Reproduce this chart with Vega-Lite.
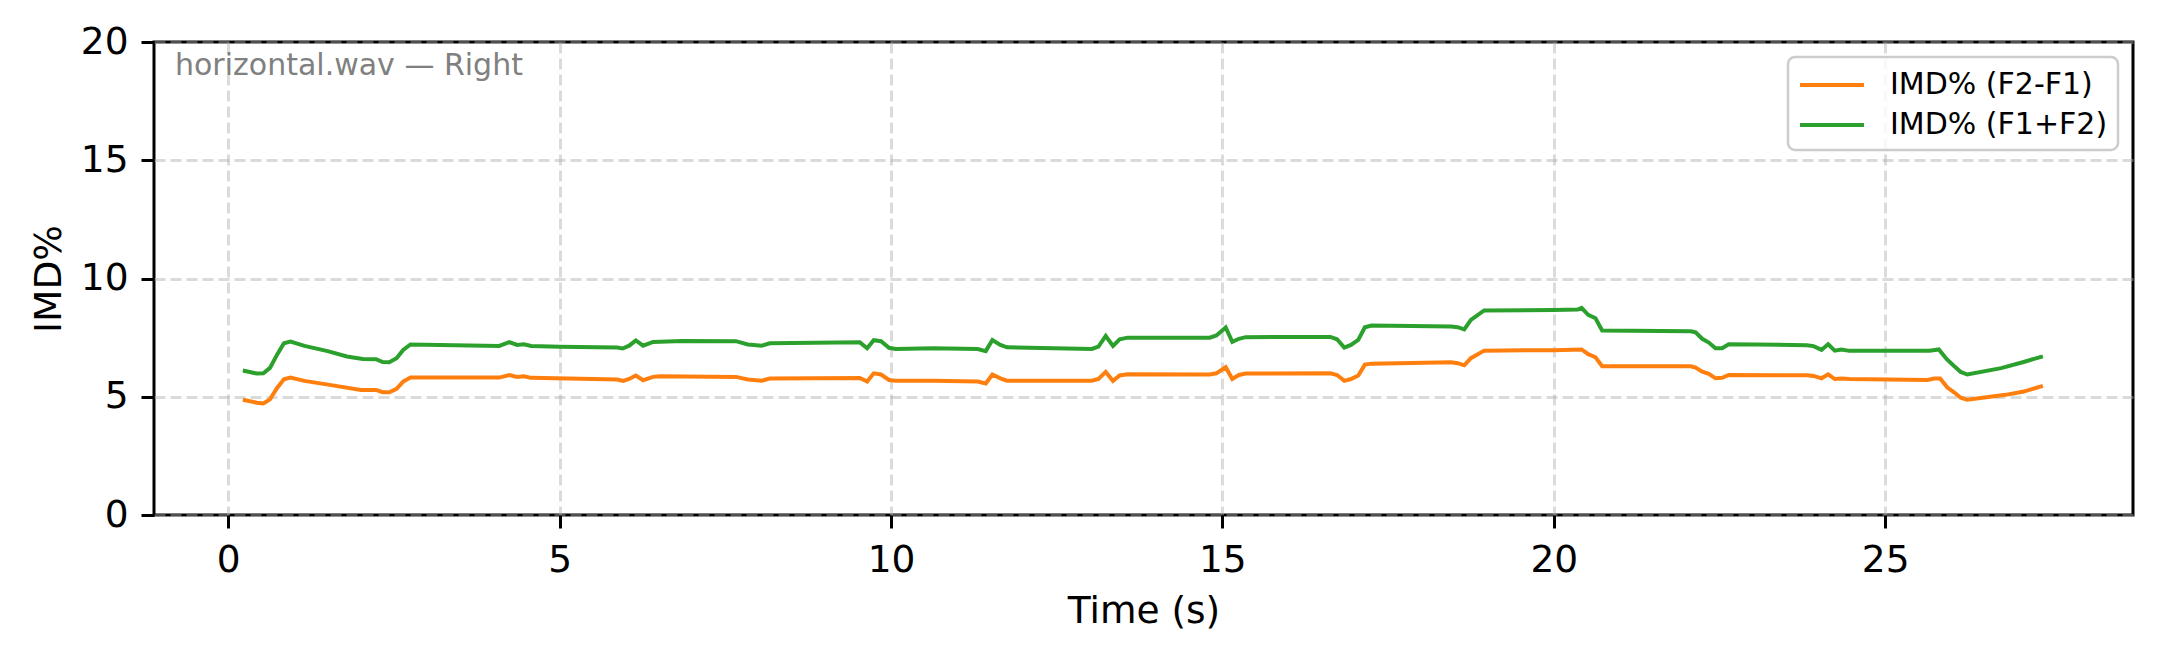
{
  "$schema": "https://vega.github.io/schema/vega-lite/v6.json",
  "autosize": {"type": "none"},
  "width": 1979,
  "height": 473,
  "padding": {"left": 154, "top": 42, "right": 27, "bottom": 142},
  "background": "white",
  "title": {"text": "horizontal.wav — Right", "anchor": "start", "frame": "group", "orient": "top", "offset": -38, "dx": 21, "dy": 44, "fontSize": 30, "font": "DejaVu Sans", "fontWeight": "normal", "color": "#808080", "baseline": "alphabetic"},
  "data": {"values": [
    {"t":0.22,"imd":4.87,"s":"IMD% (F2-F1)"},{"t":0.43,"imd":4.75,"s":"IMD% (F2-F1)"},{"t":0.53,"imd":4.72,"s":"IMD% (F2-F1)"},{"t":0.63,"imd":4.89,"s":"IMD% (F2-F1)"},{"t":0.735,"imd":5.36,"s":"IMD% (F2-F1)"},{"t":0.84,"imd":5.74,"s":"IMD% (F2-F1)"},{"t":0.94,"imd":5.81,"s":"IMD% (F2-F1)"},{"t":1.15,"imd":5.67,"s":"IMD% (F2-F1)"},{"t":1.6,"imd":5.47,"s":"IMD% (F2-F1)"},{"t":2.0,"imd":5.29,"s":"IMD% (F2-F1)"},{"t":2.23,"imd":5.29,"s":"IMD% (F2-F1)"},{"t":2.33,"imd":5.19,"s":"IMD% (F2-F1)"},{"t":2.43,"imd":5.19,"s":"IMD% (F2-F1)"},{"t":2.54,"imd":5.33,"s":"IMD% (F2-F1)"},{"t":2.64,"imd":5.64,"s":"IMD% (F2-F1)"},{"t":2.75,"imd":5.81,"s":"IMD% (F2-F1)"},{"t":4.09,"imd":5.81,"s":"IMD% (F2-F1)"},{"t":4.24,"imd":5.92,"s":"IMD% (F2-F1)"},{"t":4.36,"imd":5.84,"s":"IMD% (F2-F1)"},{"t":4.46,"imd":5.87,"s":"IMD% (F2-F1)"},{"t":4.57,"imd":5.8,"s":"IMD% (F2-F1)"},{"t":5.87,"imd":5.73,"s":"IMD% (F2-F1)"},{"t":5.96,"imd":5.67,"s":"IMD% (F2-F1)"},{"t":6.05,"imd":5.75,"s":"IMD% (F2-F1)"},{"t":6.15,"imd":5.9,"s":"IMD% (F2-F1)"},{"t":6.26,"imd":5.7,"s":"IMD% (F2-F1)"},{"t":6.41,"imd":5.84,"s":"IMD% (F2-F1)"},{"t":6.51,"imd":5.87,"s":"IMD% (F2-F1)"},{"t":7.66,"imd":5.84,"s":"IMD% (F2-F1)"},{"t":7.84,"imd":5.73,"s":"IMD% (F2-F1)"},{"t":8.05,"imd":5.68,"s":"IMD% (F2-F1)"},{"t":8.17,"imd":5.77,"s":"IMD% (F2-F1)"},{"t":9.53,"imd":5.79,"s":"IMD% (F2-F1)"},{"t":9.64,"imd":5.64,"s":"IMD% (F2-F1)"},{"t":9.74,"imd":5.99,"s":"IMD% (F2-F1)"},{"t":9.85,"imd":5.94,"s":"IMD% (F2-F1)"},{"t":9.97,"imd":5.71,"s":"IMD% (F2-F1)"},{"t":10.07,"imd":5.68,"s":"IMD% (F2-F1)"},{"t":10.64,"imd":5.68,"s":"IMD% (F2-F1)"},{"t":11.31,"imd":5.64,"s":"IMD% (F2-F1)"},{"t":11.43,"imd":5.56,"s":"IMD% (F2-F1)"},{"t":11.53,"imd":5.94,"s":"IMD% (F2-F1)"},{"t":11.65,"imd":5.78,"s":"IMD% (F2-F1)"},{"t":11.75,"imd":5.68,"s":"IMD% (F2-F1)"},{"t":13.03,"imd":5.68,"s":"IMD% (F2-F1)"},{"t":13.13,"imd":5.75,"s":"IMD% (F2-F1)"},{"t":13.24,"imd":6.05,"s":"IMD% (F2-F1)"},{"t":13.35,"imd":5.67,"s":"IMD% (F2-F1)"},{"t":13.45,"imd":5.9,"s":"IMD% (F2-F1)"},{"t":13.57,"imd":5.95,"s":"IMD% (F2-F1)"},{"t":14.81,"imd":5.94,"s":"IMD% (F2-F1)"},{"t":14.91,"imd":5.99,"s":"IMD% (F2-F1)"},{"t":15.05,"imd":6.25,"s":"IMD% (F2-F1)"},{"t":15.15,"imd":5.75,"s":"IMD% (F2-F1)"},{"t":15.25,"imd":5.92,"s":"IMD% (F2-F1)"},{"t":15.35,"imd":5.98,"s":"IMD% (F2-F1)"},{"t":16.63,"imd":5.99,"s":"IMD% (F2-F1)"},{"t":16.73,"imd":5.92,"s":"IMD% (F2-F1)"},{"t":16.84,"imd":5.67,"s":"IMD% (F2-F1)"},{"t":16.94,"imd":5.75,"s":"IMD% (F2-F1)"},{"t":17.05,"imd":5.9,"s":"IMD% (F2-F1)"},{"t":17.15,"imd":6.36,"s":"IMD% (F2-F1)"},{"t":17.25,"imd":6.4,"s":"IMD% (F2-F1)"},{"t":18.45,"imd":6.46,"s":"IMD% (F2-F1)"},{"t":18.55,"imd":6.42,"s":"IMD% (F2-F1)"},{"t":18.65,"imd":6.33,"s":"IMD% (F2-F1)"},{"t":18.75,"imd":6.63,"s":"IMD% (F2-F1)"},{"t":18.95,"imd":6.95,"s":"IMD% (F2-F1)"},{"t":20.0,"imd":6.97,"s":"IMD% (F2-F1)"},{"t":20.42,"imd":7.0,"s":"IMD% (F2-F1)"},{"t":20.52,"imd":6.8,"s":"IMD% (F2-F1)"},{"t":20.63,"imd":6.67,"s":"IMD% (F2-F1)"},{"t":20.73,"imd":6.29,"s":"IMD% (F2-F1)"},{"t":22.07,"imd":6.29,"s":"IMD% (F2-F1)"},{"t":22.14,"imd":6.23,"s":"IMD% (F2-F1)"},{"t":22.24,"imd":6.06,"s":"IMD% (F2-F1)"},{"t":22.34,"imd":5.97,"s":"IMD% (F2-F1)"},{"t":22.44,"imd":5.78,"s":"IMD% (F2-F1)"},{"t":22.54,"imd":5.8,"s":"IMD% (F2-F1)"},{"t":22.64,"imd":5.92,"s":"IMD% (F2-F1)"},{"t":23.82,"imd":5.91,"s":"IMD% (F2-F1)"},{"t":23.92,"imd":5.88,"s":"IMD% (F2-F1)"},{"t":24.04,"imd":5.78,"s":"IMD% (F2-F1)"},{"t":24.14,"imd":5.95,"s":"IMD% (F2-F1)"},{"t":24.24,"imd":5.75,"s":"IMD% (F2-F1)"},{"t":24.34,"imd":5.77,"s":"IMD% (F2-F1)"},{"t":24.46,"imd":5.75,"s":"IMD% (F2-F1)"},{"t":25.64,"imd":5.71,"s":"IMD% (F2-F1)"},{"t":25.74,"imd":5.77,"s":"IMD% (F2-F1)"},{"t":25.83,"imd":5.77,"s":"IMD% (F2-F1)"},{"t":25.94,"imd":5.39,"s":"IMD% (F2-F1)"},{"t":26.04,"imd":5.19,"s":"IMD% (F2-F1)"},{"t":26.14,"imd":4.96,"s":"IMD% (F2-F1)"},{"t":26.24,"imd":4.87,"s":"IMD% (F2-F1)"},{"t":26.82,"imd":5.08,"s":"IMD% (F2-F1)"},{"t":27.09,"imd":5.22,"s":"IMD% (F2-F1)"},{"t":27.38,"imd":5.46,"s":"IMD% (F2-F1)"},
    {"t":0.22,"imd":6.11,"s":"IMD% (F1+F2)"},{"t":0.43,"imd":5.98,"s":"IMD% (F1+F2)"},{"t":0.53,"imd":5.99,"s":"IMD% (F1+F2)"},{"t":0.63,"imd":6.22,"s":"IMD% (F1+F2)"},{"t":0.735,"imd":6.77,"s":"IMD% (F1+F2)"},{"t":0.84,"imd":7.26,"s":"IMD% (F1+F2)"},{"t":0.94,"imd":7.33,"s":"IMD% (F1+F2)"},{"t":1.15,"imd":7.15,"s":"IMD% (F1+F2)"},{"t":1.5,"imd":6.93,"s":"IMD% (F1+F2)"},{"t":1.79,"imd":6.7,"s":"IMD% (F1+F2)"},{"t":2.03,"imd":6.6,"s":"IMD% (F1+F2)"},{"t":2.23,"imd":6.59,"s":"IMD% (F1+F2)"},{"t":2.33,"imd":6.47,"s":"IMD% (F1+F2)"},{"t":2.43,"imd":6.46,"s":"IMD% (F1+F2)"},{"t":2.54,"imd":6.63,"s":"IMD% (F1+F2)"},{"t":2.64,"imd":6.98,"s":"IMD% (F1+F2)"},{"t":2.75,"imd":7.21,"s":"IMD% (F1+F2)"},{"t":4.09,"imd":7.15,"s":"IMD% (F1+F2)"},{"t":4.15,"imd":7.21,"s":"IMD% (F1+F2)"},{"t":4.24,"imd":7.31,"s":"IMD% (F1+F2)"},{"t":4.36,"imd":7.19,"s":"IMD% (F1+F2)"},{"t":4.46,"imd":7.22,"s":"IMD% (F1+F2)"},{"t":4.57,"imd":7.15,"s":"IMD% (F1+F2)"},{"t":5.0,"imd":7.11,"s":"IMD% (F1+F2)"},{"t":5.87,"imd":7.08,"s":"IMD% (F1+F2)"},{"t":5.95,"imd":7.04,"s":"IMD% (F1+F2)"},{"t":6.05,"imd":7.16,"s":"IMD% (F1+F2)"},{"t":6.15,"imd":7.38,"s":"IMD% (F1+F2)"},{"t":6.26,"imd":7.16,"s":"IMD% (F1+F2)"},{"t":6.41,"imd":7.32,"s":"IMD% (F1+F2)"},{"t":6.85,"imd":7.36,"s":"IMD% (F1+F2)"},{"t":7.66,"imd":7.35,"s":"IMD% (F1+F2)"},{"t":7.84,"imd":7.21,"s":"IMD% (F1+F2)"},{"t":8.05,"imd":7.16,"s":"IMD% (F1+F2)"},{"t":8.17,"imd":7.26,"s":"IMD% (F1+F2)"},{"t":9.53,"imd":7.3,"s":"IMD% (F1+F2)"},{"t":9.64,"imd":7.05,"s":"IMD% (F1+F2)"},{"t":9.74,"imd":7.39,"s":"IMD% (F1+F2)"},{"t":9.85,"imd":7.35,"s":"IMD% (F1+F2)"},{"t":9.97,"imd":7.07,"s":"IMD% (F1+F2)"},{"t":10.07,"imd":7.02,"s":"IMD% (F1+F2)"},{"t":10.64,"imd":7.05,"s":"IMD% (F1+F2)"},{"t":11.31,"imd":7.02,"s":"IMD% (F1+F2)"},{"t":11.43,"imd":6.93,"s":"IMD% (F1+F2)"},{"t":11.53,"imd":7.4,"s":"IMD% (F1+F2)"},{"t":11.65,"imd":7.19,"s":"IMD% (F1+F2)"},{"t":11.75,"imd":7.09,"s":"IMD% (F1+F2)"},{"t":13.03,"imd":7.02,"s":"IMD% (F1+F2)"},{"t":13.13,"imd":7.12,"s":"IMD% (F1+F2)"},{"t":13.24,"imd":7.57,"s":"IMD% (F1+F2)"},{"t":13.35,"imd":7.15,"s":"IMD% (F1+F2)"},{"t":13.45,"imd":7.43,"s":"IMD% (F1+F2)"},{"t":13.57,"imd":7.5,"s":"IMD% (F1+F2)"},{"t":14.81,"imd":7.5,"s":"IMD% (F1+F2)"},{"t":14.91,"imd":7.59,"s":"IMD% (F1+F2)"},{"t":15.05,"imd":7.93,"s":"IMD% (F1+F2)"},{"t":15.15,"imd":7.32,"s":"IMD% (F1+F2)"},{"t":15.25,"imd":7.45,"s":"IMD% (F1+F2)"},{"t":15.35,"imd":7.52,"s":"IMD% (F1+F2)"},{"t":16.63,"imd":7.53,"s":"IMD% (F1+F2)"},{"t":16.73,"imd":7.43,"s":"IMD% (F1+F2)"},{"t":16.84,"imd":7.08,"s":"IMD% (F1+F2)"},{"t":16.94,"imd":7.19,"s":"IMD% (F1+F2)"},{"t":17.05,"imd":7.4,"s":"IMD% (F1+F2)"},{"t":17.15,"imd":7.94,"s":"IMD% (F1+F2)"},{"t":17.25,"imd":8.01,"s":"IMD% (F1+F2)"},{"t":18.45,"imd":7.97,"s":"IMD% (F1+F2)"},{"t":18.55,"imd":7.94,"s":"IMD% (F1+F2)"},{"t":18.65,"imd":7.85,"s":"IMD% (F1+F2)"},{"t":18.75,"imd":8.25,"s":"IMD% (F1+F2)"},{"t":18.95,"imd":8.65,"s":"IMD% (F1+F2)"},{"t":20.0,"imd":8.67,"s":"IMD% (F1+F2)"},{"t":20.36,"imd":8.69,"s":"IMD% (F1+F2)"},{"t":20.42,"imd":8.76,"s":"IMD% (F1+F2)"},{"t":20.52,"imd":8.46,"s":"IMD% (F1+F2)"},{"t":20.63,"imd":8.32,"s":"IMD% (F1+F2)"},{"t":20.73,"imd":7.8,"s":"IMD% (F1+F2)"},{"t":22.07,"imd":7.77,"s":"IMD% (F1+F2)"},{"t":22.14,"imd":7.72,"s":"IMD% (F1+F2)"},{"t":22.24,"imd":7.45,"s":"IMD% (F1+F2)"},{"t":22.34,"imd":7.29,"s":"IMD% (F1+F2)"},{"t":22.44,"imd":7.05,"s":"IMD% (F1+F2)"},{"t":22.54,"imd":7.05,"s":"IMD% (F1+F2)"},{"t":22.64,"imd":7.22,"s":"IMD% (F1+F2)"},{"t":23.82,"imd":7.18,"s":"IMD% (F1+F2)"},{"t":23.92,"imd":7.14,"s":"IMD% (F1+F2)"},{"t":24.04,"imd":6.98,"s":"IMD% (F1+F2)"},{"t":24.14,"imd":7.22,"s":"IMD% (F1+F2)"},{"t":24.24,"imd":6.95,"s":"IMD% (F1+F2)"},{"t":24.34,"imd":7.0,"s":"IMD% (F1+F2)"},{"t":24.46,"imd":6.94,"s":"IMD% (F1+F2)"},{"t":25.67,"imd":6.95,"s":"IMD% (F1+F2)"},{"t":25.81,"imd":7.0,"s":"IMD% (F1+F2)"},{"t":25.93,"imd":6.59,"s":"IMD% (F1+F2)"},{"t":26.04,"imd":6.3,"s":"IMD% (F1+F2)"},{"t":26.14,"imd":6.05,"s":"IMD% (F1+F2)"},{"t":26.24,"imd":5.94,"s":"IMD% (F1+F2)"},{"t":26.75,"imd":6.21,"s":"IMD% (F1+F2)"},{"t":27.09,"imd":6.47,"s":"IMD% (F1+F2)"},{"t":27.38,"imd":6.71,"s":"IMD% (F1+F2)"}
  ]},
  "mark": {"type": "line", "strokeWidth": 4, "clip": true},
  "encoding": {
    "x": {"field": "t", "type": "quantitative", "title": "Time (s)",
      "scale": {"domain": [-1.12, 28.74], "nice": false, "zero": false},
      "axis": {"values": [0, 5, 10, 15, 20, 25], "titlePadding": 14}},
    "y": {"field": "imd", "type": "quantitative", "title": "IMD%",
      "scale": {"domain": [0, 20], "nice": false, "zero": false},
      "axis": {"values": [0, 5, 10, 15, 20], "titlePadding": 12}},
    "color": {"field": "s", "type": "nominal",
      "scale": {"domain": ["IMD% (F2-F1)", "IMD% (F1+F2)"], "range": ["#ff7f0e", "#2ca02c"]},
      "legend": {"title": null}},
    "detail": {"field": "s"}
  },
  "config": {
    "font": "DejaVu Sans",
    "view": {"stroke": "black", "strokeWidth": 3},
    "axis": {"domain": false, "tickColor": "black", "tickWidth": 3, "tickSize": 13,
      "labelFontSize": 37.5, "labelColor": "black", "labelFont": "DejaVu Sans", "labelPadding": 13,
      "titleFontSize": 37.5, "titleFontWeight": "normal", "titleColor": "black", "titleFont": "DejaVu Sans",
      "gridColor": "#b0b0b0", "gridOpacity": 0.45, "gridDash": [11, 5], "gridWidth": 3, "labelFlush": false, "labelOverlap": false},
    "legend": {"orient": "top-right", "offset": 15, "padding": 10,
      "fillColor": "rgba(255,255,255,0.8)", "strokeColor": "#cccccc", "strokeWidth": 2.5, "cornerRadius": 7,
      "labelFontSize": 30, "labelFont": "DejaVu Sans", "labelColor": "black", "labelLimit": 500,
      "symbolType": "M-1,0H3", "symbolSize": 1024, "symbolStrokeWidth": 4, "labelOffset": 56, "rowPadding": 7}
  }
}
